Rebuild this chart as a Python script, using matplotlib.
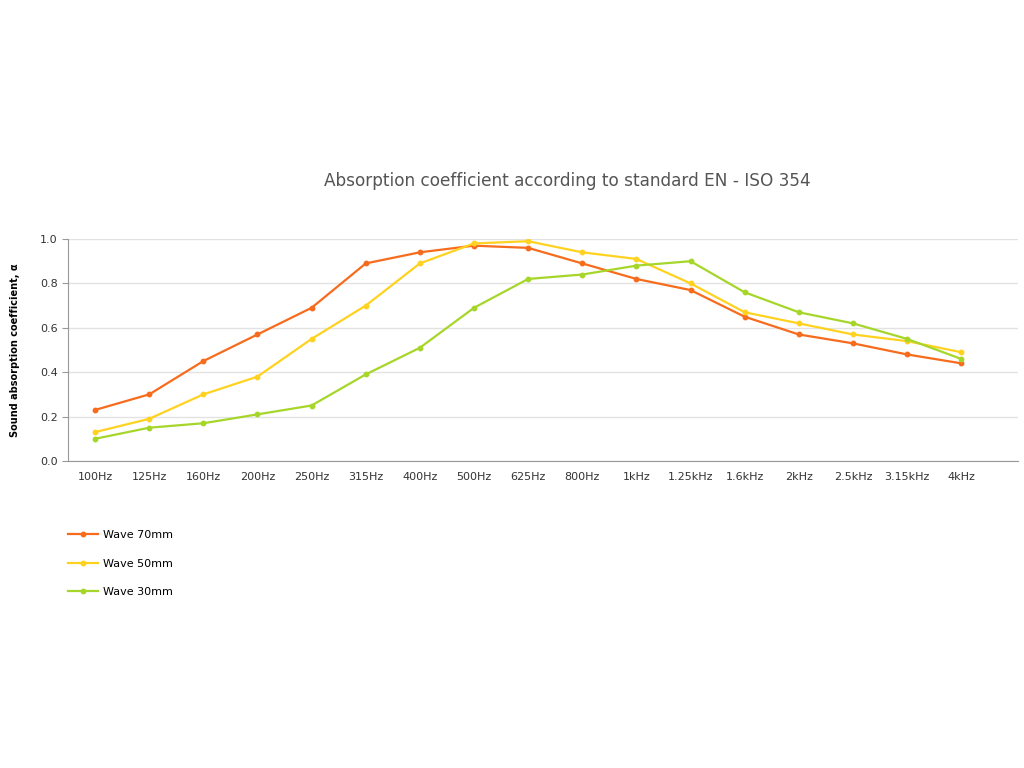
from matplotlib import pyplot as plt
import numpy as np

# 데이터
freqs = ['100Hz', '125Hz', '160Hz', '200Hz', '250Hz', '315Hz', '400Hz', '500Hz', '625Hz',
         '800Hz', '1kHz', '1.25kHz', '1.6kHz', '2kHz', '2.5kHz', '3.15kHz', '4kHz']
wave70 = [0.23, 0.30, 0.45, 0.57, 0.69, 0.89, 0.94, 0.97, 0.96, 0.89, 0.82, 0.77, 0.65, 0.57, 0.53, 0.48, 0.44]
wave50 = [0.13, 0.19, 0.30, 0.38, 0.55, 0.70, 0.89, 0.98, 0.99, 0.94, 0.91, 0.80, 0.67, 0.62, 0.57, 0.54, 0.49]
wave30 = [0.10, 0.15, 0.17, 0.21, 0.25, 0.39, 0.51, 0.69, 0.82, 0.84, 0.88, 0.90, 0.76, 0.67, 0.62, 0.55, 0.46]
labels = ['Wave 70mm', 'Wave 50mm', 'Wave 30mm']
colors = ['#f76b1c', '#ffd21f', '#a6d62a']

plt.rcParams['font.family'] = ['DejaVu Sans']

fig = plt.figure(figsize=(10.24, 7.68), dpi=100)
ax = fig.add_axes([68/1024, 1 - 461/768, (1018 - 68)/1024, (461 - 239)/768])

x = np.arange(len(freqs))
for ys, lab, c in zip([wave70, wave50, wave30], labels, colors):
    ax.plot(x, ys, color=c, lw=1.6, marker='o', ms=3.2, label=lab)

ax.set_xlim(-0.5, 17.05)
ax.set_ylim(0, 1.0)
ax.set_yticks([0, 0.2, 0.4, 0.6, 0.8, 1.0])
ax.set_yticklabels(['0.0', '0.2', '0.4', '0.6', '0.8', '1.0'])
ax.set_xticks(x)
ax.set_xticklabels(freqs)
ax.tick_params(axis='x', length=0, pad=8, labelsize=8, colors='#333333')
ax.tick_params(axis='y', length=4, labelsize=8, colors='#333333', width=0.8)
ax.tick_params(axis='y', color='#999999')
ax.grid(axis='y', color='#e2e2e2', lw=1)
ax.set_axisbelow(True)
for s in ['top', 'right']:
    ax.spines[s].set_visible(False)
ax.spines['left'].set_color('#999999')
ax.spines['bottom'].set_color('#999999')

ax.set_ylabel('Sound absorption coefficient, α', fontsize=7, fontweight='bold', labelpad=14)

fig.text(567/1024, 1 - 181/768, 'Absorption coefficient according to standard EN - ISO 354',
         ha='center', va='center', fontsize=12.2, color='#555555')

fig.legend(loc='upper left', bbox_to_anchor=(58/1024, 1 - 520/768), frameon=False,
           fontsize=8, handlelength=2.7, labelspacing=1.68, handletextpad=0.45)

fig.savefig('out.png', dpi=100)
